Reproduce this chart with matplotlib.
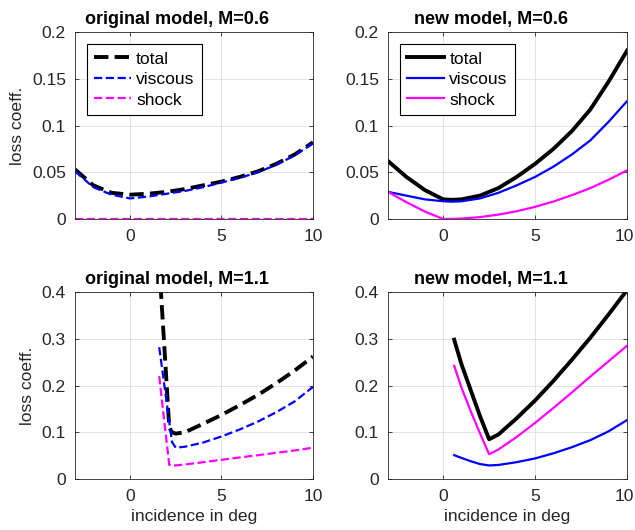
import numpy as np
import matplotlib
matplotlib.use('Agg')
import matplotlib.pyplot as plt
import matplotlib.transforms as mtransforms
from matplotlib.ticker import FuncFormatter

# ---------------- data ----------------
# M=0.6, original model
x_o06 = [-3, -2, -1, 0, 1, 2, 3, 4, 5, 6, 7, 8, 9, 10]
tot_o06 = [0.053, 0.036, 0.028, 0.026, 0.027, 0.029, 0.032, 0.036, 0.040, 0.045, 0.051, 0.059, 0.069, 0.082]
vis_o06 = [0.051, 0.034, 0.026, 0.022, 0.024, 0.027, 0.030, 0.034, 0.039, 0.044, 0.050, 0.058, 0.068, 0.081]
sho_o06 = [0, 0, 0, 0, 0, 0, 0, 0, 0, 0, 0, 0, 0, 0]

# M=0.6, new model
x_n06 = [-3, -2, -1, 0, 0.5, 1, 2, 3, 4, 5, 6, 7, 8, 9, 10]
tot_n06 = [0.062, 0.045, 0.031, 0.021, 0.0205, 0.021, 0.025, 0.033, 0.045, 0.059, 0.075, 0.094, 0.117, 0.147, 0.180]
vis_n06 = [0.029, 0.025, 0.021, 0.019, 0.0185, 0.019, 0.022, 0.028, 0.036, 0.045, 0.056, 0.069, 0.084, 0.104, 0.126]
sho_n06 = [0.029, 0.018, 0.008, 0.0, 0.0001, 0.0005, 0.002, 0.0047, 0.0083, 0.013, 0.0187, 0.0255, 0.033, 0.042, 0.052]

# M=1.1, original model
x_o11 = [1.6, 1.9, 2.15, 2.3, 2.5, 3, 4, 5, 6, 7, 8, 9, 10]
tot_o11 = [0.46, 0.27, 0.11, 0.100, 0.097, 0.100, 0.118, 0.137, 0.158, 0.180, 0.205, 0.232, 0.262]
vis_o11 = [0.282, 0.195, 0.122, 0.079, 0.067, 0.069, 0.078, 0.091, 0.106, 0.123, 0.143, 0.166, 0.197]
sho_o11 = [0.22, 0.115, 0.030, 0.029, 0.029, 0.031, 0.036, 0.041, 0.046, 0.051, 0.056, 0.061, 0.067]

# M=1.1, new model
x_n11 = [0.6, 1.0, 1.5, 2.0, 2.5, 3, 4, 5, 6, 7, 8, 9, 10]
tot_n11 = [0.298, 0.245, 0.19, 0.135, 0.085, 0.095, 0.13, 0.168, 0.21, 0.255, 0.302, 0.352, 0.404]
vis_n11 = [0.051, 0.045, 0.038, 0.032, 0.029, 0.030, 0.036, 0.044, 0.055, 0.068, 0.083, 0.102, 0.126]
sho_n11 = [0.242, 0.195, 0.145, 0.098, 0.053, 0.063, 0.09, 0.12, 0.152, 0.185, 0.219, 0.252, 0.285]

labels = ['total', 'viscous', 'shock']
xticks = [0, 5, 10]
yticks_06 = [0, 0.05, 0.1, 0.15, 0.2]
yticks_11 = [0, 0.1, 0.2, 0.3, 0.4]

# ---------------- style ----------------
plt.rcParams['font.family'] = ['Liberation Sans', 'DejaVu Sans']
plt.rcParams['font.size'] = 12.6
plt.rcParams['axes.linewidth'] = 0.6
dark = (0.15, 0.15, 0.15)

fig = plt.figure(figsize=(6.35, 5.30), dpi=100)

W, H = 635, 530
def pos(l, t, r, b):
    return [l / W, 1 - b / H, (r - l) / W, (b - t) / H]

axes = [
    fig.add_axes(pos(75, 32, 313, 219)),
    fig.add_axes(pos(388, 32, 627, 219)),
    fig.add_axes(pos(75, 292, 313, 479)),
    fig.add_axes(pos(388, 292, 627, 479)),
]

panels = [
    ('original model, M=0.6', x_o06, tot_o06, vis_o06, sho_o06, '--', yticks_06),
    ('new model, M=0.6', x_n06, tot_n06, vis_n06, sho_n06, '-', yticks_06),
    ('original model, M=1.1', x_o11, tot_o11, vis_o11, sho_o11, '--', yticks_11),
    ('new model, M=1.1', x_n11, tot_n11, vis_n11, sho_n11, '-', yticks_11),
]

fmt = FuncFormatter(lambda v, p: '%g' % round(v, 4))

for i, (ax, (title, x, tot, vis, sho, ls, yt)) in enumerate(zip(axes, panels)):
    ax.plot(x, tot, ls, color='black', lw=2.8, label=labels[0])
    ax.plot(x, vis, ls, color='#0000ff', lw=1.6, label=labels[1])
    ax.plot(x, sho, ls, color='#ff00ff', lw=1.6, label=labels[2])

    ax.set_xlim(-3, 10)
    ax.set_ylim(yt[0], yt[-1])
    ax.set_xticks(xticks)
    ax.set_yticks(yt)
    ax.yaxis.set_major_formatter(fmt)
    ax.xaxis.set_major_formatter(fmt)
    ax.grid(True, color=(0.87, 0.87, 0.87), lw=0.6)
    ax.set_axisbelow(True)
    ax.tick_params(direction='in', length=3, width=0.6, top=True, right=True,
                   colors=dark, labelcolor=dark, labelsize=12.6)
    ax.tick_params(axis='x', pad=7.5)
    ax.tick_params(axis='y', pad=6.5)
    for sp in ax.spines.values():
        sp.set_color(dark)
    # titles sit a bit left of the axes centre in the original
    ax.set_title(title, fontsize=13, fontweight='bold', pad=6, x=0.43)

    if i % 2 == 0:
        ax.set_ylabel('loss coeff.', color=dark, labelpad=5)
    else:
        # keep the last x label inside the figure edge
        lab = ax.xaxis.get_major_ticks()[-1].label1
        lab.set_transform(lab.get_transform() +
                          mtransforms.ScaledTranslation(-3 / 100, 0, fig.dpi_scale_trans))
    if i >= 2:
        ax.set_xlabel('incidence in deg', color=dark, labelpad=3)
    if i < 2:
        leg = ax.legend(loc='upper left', bbox_to_anchor=(0.05, 0.936), borderaxespad=0,
                        fancybox=False, framealpha=1, edgecolor='black',
                        handlelength=2.1, handletextpad=0.3, labelspacing=0.3,
                        borderpad=0.42, fontsize=12.6)
        leg.get_frame().set_linewidth(0.8)

fig.savefig('out.png', dpi=100)
